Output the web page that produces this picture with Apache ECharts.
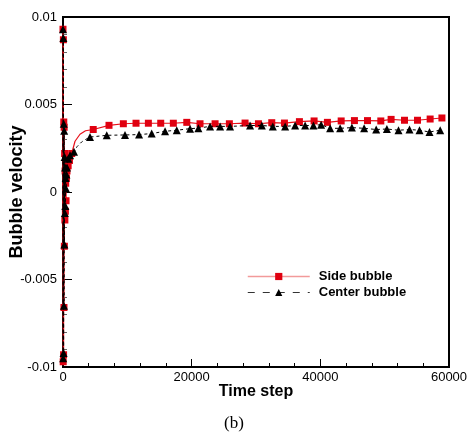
<!DOCTYPE html>
<html>
<head>
<meta charset="utf-8">
<script src="https://cdn.jsdelivr.net/npm/echarts@6/dist/echarts.min.js"></script>
<style>
html,body{margin:0;padding:0;background:#fff;}
#chart{width:468px;height:445px;}
</style>
</head>
<body>
<div id="chart"></div>
<script>
// ---- data ----
const xTicks = [0, 20000, 40000, 60000];
const yTicks = [-0.01, -0.005, 0, 0.005, 0.01];
const seriesNames = ['Side bubble', 'Center bubble'];
const xTitle = 'Time step';
const yTitle = 'Bubble velocity';
const caption = '(b)';

const sideT = [0, 30, 60, 90, 120, 150, 180, 210, 250, 290, 330, 370, 420, 470, 530, 620, 800, 1000, 1350,
  1870, 2640, 3500, 4700, 7150, 9380, 11350, 13270, 15190, 17150, 19240, 21300, 23640, 25860,
  28300, 30380, 32450, 34420, 36750, 39030, 41100, 43240, 45300, 47330, 49400, 51000, 53080, 55100, 57070, 58900];
const sideV = [0.0093, -0.0097, 0.0087, -0.0093, 0.0040, -0.0066, 0.0037, -0.0031, 0.0022, -0.0016, 0.0012, -0.0011, 0.0005, -0.0005, 0.0008, 0.0012, 0.0015, 0.0018, 0.0022,
  0.0029, 0.0033, 0.0035, 0.00357, 0.00381, 0.0039, 0.00393, 0.00393, 0.00393, 0.00393, 0.00398, 0.0039, 0.0039, 0.0039,
  0.00394, 0.0039, 0.00396, 0.00394, 0.00402, 0.00406, 0.00398, 0.00406, 0.00408, 0.00408, 0.00406, 0.00415, 0.0041, 0.0041, 0.00417, 0.00423];

const centerT = [0, 30, 60, 90, 120, 150, 180, 210, 250, 290, 330, 370, 420, 470, 530, 620, 830, 1100, 1710,
  2200, 2900, 3500, 4200, 6800, 9640, 11820, 13790, 15860, 17680, 19750, 21040, 22860, 24420, 25970,
  29080, 30900, 32610, 34530, 36080, 37640, 38930, 40120, 41520, 43080, 44900, 46810, 48680, 50340, 52150, 53860, 55410, 56970, 58630];
const centerV = [0.0093, -0.0095, 0.0088, -0.0092, 0.0039, -0.0065, 0.0035, -0.0030, 0.0020, -0.0012, 0.0014, -0.0008, 0.0008, 0.0002, 0.0010, 0.0014, 0.0019, 0.0021, 0.0023,
  0.0026, 0.00286, 0.0030, 0.00314, 0.00324, 0.00326, 0.00328, 0.00334, 0.00347, 0.00353, 0.00362, 0.00365, 0.00375, 0.00375, 0.00375,
  0.0038, 0.0038, 0.00375, 0.00375, 0.0038, 0.0038, 0.0038, 0.00385, 0.00364, 0.00364, 0.00368, 0.00364, 0.00357, 0.0036, 0.00353, 0.00357, 0.00353, 0.00343, 0.00353];

// marker-free stretches (curve only) during the initial rise
const sideNoMarker = [1500, 4500];
const centerNoMarker = [1800, 4100];

const build = (ts, vs, gap) => ts.map((t, i) => {
  const item = {value: [t, vs[i]]};
  if (t > gap[0] && t < gap[1]) item.symbol = 'none';
  return item;
});

const chart = echarts.init(document.getElementById('chart'), null, {renderer: 'canvas'});
const font = 'Liberation Sans, Arial, sans-serif';

chart.setOption({
  backgroundColor: '#ffffff',
  animation: false,
  grid: {left: 63, right: 19, top: 17, bottom: 78, containLabel: false, outerBoundsMode: 'none',
    show: true, borderColor: '#000', borderWidth: 2, backgroundColor: 'transparent'},
  legend: {
    left: 247, top: 270, orient: 'vertical', itemWidth: 62, itemHeight: 9, itemGap: 3, padding: 0,
    textStyle: {fontFamily: font, fontSize: 13, fontWeight: 'bold', color: '#000', padding: [0, 0, 0, 4]},
    data: [
      {name: seriesNames[0], lineStyle: {color: '#f29a9a', width: 1.5, type: 'solid'}},
      {name: seriesNames[1], lineStyle: {color: '#333', width: 1, type: [7, 8]}}
    ]
  },
  xAxis: {
    type: 'value', min: xTicks[0], max: xTicks[xTicks.length - 1], interval: xTicks[1] - xTicks[0],
    name: xTitle, nameLocation: 'middle', nameGap: 17, nameMoveOverlap: false,
    nameTextStyle: {fontFamily: font, fontSize: 16, fontWeight: 'bold', color: '#000'},
    axisLine: {show: true, onZero: false, lineStyle: {color: '#000', width: 2}},
    axisTick: {show: true, inside: true, length: 8, lineStyle: {color: '#000', width: 1}},
    minorTick: {show: true, splitNumber: 5, length: 4, lineStyle: {color: '#000', width: 1}},
    splitLine: {show: false},
    axisLabel: {fontFamily: font, fontSize: 13, color: '#000', margin: 4, formatter: v => String(v)}
  },
  yAxis: {
    type: 'value', min: yTicks[0], max: yTicks[yTicks.length - 1], interval: yTicks[1] - yTicks[0],
    name: yTitle, nameLocation: 'middle', nameGap: 37, nameRotate: 90, nameMoveOverlap: false,
    nameTextStyle: {fontFamily: font, fontSize: 18, fontWeight: 'bold', color: '#000'},
    axisLine: {show: true, onZero: false, lineStyle: {color: '#000', width: 2}},
    axisTick: {show: true, inside: true, length: 9, lineStyle: {color: '#000', width: 1}},
    minorTick: {show: true, splitNumber: 5, length: 4, lineStyle: {color: '#666', width: 1}},
    splitLine: {show: false},
    axisLabel: {fontFamily: font, fontSize: 13, color: '#000', margin: 6,
      formatter: v => String(parseFloat(v.toFixed(4)))}
  },
  series: [
    {
      name: seriesNames[0], type: 'line', data: build(sideT, sideV, sideNoMarker),
      symbol: 'rect', symbolSize: 7, showAllSymbol: true,
      lineStyle: {color: '#e8101a', width: 1.2},
      itemStyle: {color: '#e00010'},
      z: 3
    },
    {
      name: seriesNames[1], type: 'line', data: build(centerT, centerV, centerNoMarker),
      symbol: 'triangle', symbolSize: 8, showAllSymbol: true,
      lineStyle: {color: '#000', width: 1, type: [3, 3]},
      itemStyle: {color: '#000'},
      z: 4
    }
  ],
  graphic: [{
    type: 'text', left: 'center', top: 415,
    style: {text: caption, fontFamily: 'Liberation Serif, Times New Roman, serif', fontSize: 17, fill: '#000'}
  }]
});
</script>
</body>
</html>
